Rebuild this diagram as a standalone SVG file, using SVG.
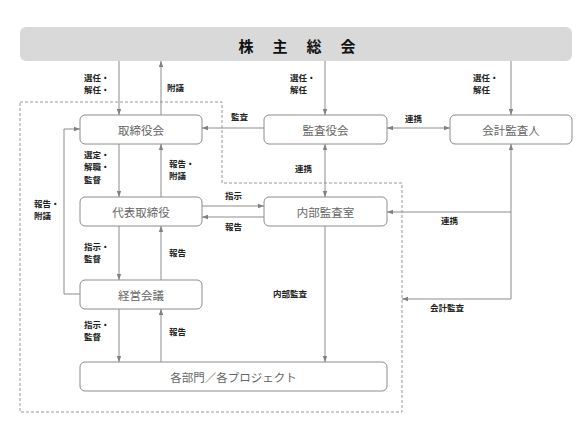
<svg xmlns="http://www.w3.org/2000/svg" width="588" height="441" viewBox="0 0 588 441">
<defs>
<marker id="ah" viewBox="0 0 6 6" refX="6" refY="3" markerWidth="6" markerHeight="6" orient="auto-start-reverse" markerUnits="userSpaceOnUse">
<path d="M0,0.8 L6,3 L0,5.2 z" fill="#808080"/>
</marker>
<style>
.node rect{fill:#fff;stroke:#8c8c8c;stroke-width:1}
.nt{font-family:"Noto Sans CJK JP",sans-serif;font-size:11.5px;fill:#666;text-anchor:middle;dominant-baseline:central}
.lb{font-family:"Noto Sans CJK JP",sans-serif;font-size:8.5px;font-weight:bold;fill:#222}
.ln{fill:none;stroke:#8c8c8c;stroke-width:1}
.ar{marker-end:url(#ah)}
.ab{marker-start:url(#ah);marker-end:url(#ah)}
.dash{fill:none;stroke:#999;stroke-width:1;stroke-dasharray:3,2}
</style>
</defs>
<rect width="588" height="441" fill="#fff"/>
<polygon class="dash" points="20,102 222,102 222,183 402,183 402,412 20,412"/>
<g id="shareholders">
<rect x="20" y="27" width="552" height="34" rx="6" fill="#d9d9d9"/>
<text x="298" y="45" font-family="'Noto Sans CJK JP',sans-serif" font-size="15" font-weight="bold" fill="#111" text-anchor="middle" dominant-baseline="central" letter-spacing="2">株　主　総　会</text>
</g>
<g id="board" class="node"><rect x="80" y="115" width="122" height="29" rx="5"/><text class="nt" x="141" y="129.5">取締役会</text></g>
<g id="auditors" class="node"><rect x="264" y="115" width="123" height="29" rx="5"/><text class="nt" x="325.5" y="129.5">監査役会</text></g>
<g id="accountant" class="node"><rect x="450" y="115" width="122" height="29" rx="5"/><text class="nt" x="511" y="129.5">会計監査人</text></g>
<g id="ceo" class="node"><rect x="80" y="197" width="122" height="29" rx="5"/><text class="nt" x="141" y="211.5">代表取締役</text></g>
<g id="internal" class="node"><rect x="264" y="197" width="123" height="29" rx="5"/><text class="nt" x="325.5" y="211.5">内部監査室</text></g>
<g id="mgmt" class="node"><rect x="80" y="280" width="122" height="29" rx="5"/><text class="nt" x="141" y="294.5">経営会議</text></g>
<g id="depts" class="node"><rect x="80" y="362" width="307" height="29" rx="5"/><text class="nt" x="233.5" y="376.5">各部門／各プロジェクト</text></g>
<g id="connectors">
<line class="ln ar" x1="119" y1="61" x2="119" y2="115"/>
<line class="ln ar" x1="161" y1="115" x2="161" y2="61"/>
<line class="ln ar" x1="325" y1="61" x2="325" y2="115"/>
<line class="ln ar" x1="511" y1="61" x2="511" y2="115"/>
<line class="ln ar" x1="264" y1="128" x2="202" y2="128"/>
<line class="ln ab" x1="387" y1="128" x2="450" y2="128"/>
<line class="ln ar" x1="119" y1="144" x2="119" y2="197"/>
<line class="ln ar" x1="161" y1="197" x2="161" y2="144"/>
<line class="ln ab" x1="325" y1="144" x2="325" y2="197"/>
<line class="ln ar" x1="202" y1="206" x2="264" y2="206"/>
<line class="ln ar" x1="264" y1="217" x2="202" y2="217"/>
<line class="ln ar" x1="119" y1="226" x2="119" y2="280"/>
<line class="ln ar" x1="161" y1="280" x2="161" y2="226"/>
<line class="ln ar" x1="119" y1="309" x2="119" y2="362"/>
<line class="ln ar" x1="161" y1="362" x2="161" y2="309"/>
<line class="ln ar" x1="325" y1="226" x2="325" y2="362"/>
<polyline class="ln ar" points="80,294 64,294 64,129 80,129"/>
<line class="ln ar" x1="511" y1="212" x2="511" y2="144"/>
<line class="ln ar" x1="511" y1="212" x2="387" y2="212"/>
<polyline class="ln ar" points="511,212 511,299 402,299"/>
</g>
<g id="labels" class="lb">
<text x="84" y="81">選任・</text><text x="84" y="93">解任・</text>
<text x="167" y="91">附議</text>
<text x="290" y="81">選任・</text><text x="290" y="93">解任</text>
<text x="473" y="81">選任・</text><text x="473" y="93">解任</text>
<text x="231" y="120">監査</text>
<text x="405" y="122">連携</text>
<text x="84" y="158">選定・</text><text x="84" y="170">解職・</text><text x="84" y="183">監督</text>
<text x="169" y="167">報告・</text><text x="169" y="179">附議</text>
<text x="295" y="172">連携</text>
<text x="34" y="207">報告・</text><text x="34" y="219">附議</text>
<text x="225" y="199">指示</text>
<text x="225" y="230">報告</text>
<text x="441" y="224">連携</text>
<text x="84" y="250">指示・</text><text x="84" y="262">監督</text>
<text x="169" y="256">報告</text>
<text x="273" y="297">内部監査</text>
<text x="430" y="311">会計監査</text>
<text x="84" y="328">指示・</text><text x="84" y="340">監督</text>
<text x="169" y="335">報告</text>
</g>
</svg>
